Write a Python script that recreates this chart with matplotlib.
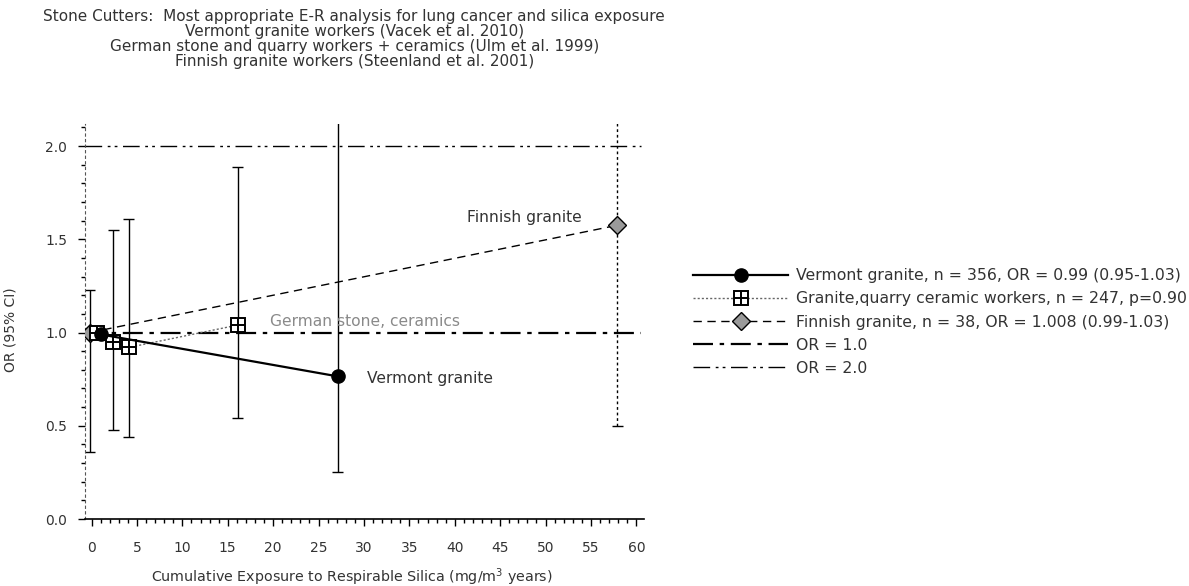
import matplotlib
matplotlib.use("Agg")
import matplotlib.pyplot as plt
from matplotlib.ticker import MultipleLocator
from matplotlib.legend_handler import HandlerTuple

plt.rcParams["font.family"] = ["DejaVu Sans"]

# Vermont granite workers (Vacek et al. 2010)
vermont_x = [1.0, 27.1]
vermont_or = [0.99, 0.765]
vermont_lo = [0.99, 0.25]
vermont_hi = [0.99, 2.40]

# German stone, quarry and ceramics workers (Ulm et al. 1999)
german_x = [0.6, 2.4, 4.1, 16.1]
german_or = [1.00, 0.95, 0.92, 1.04]
german_lo = [1.00, 0.48, 0.44, 0.54]
german_hi = [1.00, 1.55, 1.61, 1.89]

# Finnish granite workers (Steenland et al. 2001)
finnish_x = [-0.2, 57.9]
finnish_or = [1.00, 1.575]
finnish_lo = [0.36, 0.50]
finnish_hi = [1.23, 2.40]

ref_levels = [1.0, 2.0]

legend_labels = [
    "Vermont granite, n = 356, OR = 0.99 (0.95-1.03)",
    "Granite,quarry ceramic workers, n = 247, p=0.90",
    "Finnish granite, n = 38, OR = 1.008 (0.99-1.03)",
    "OR = 1.0",
    "OR = 2.0",
]

title_lines = [
    "Stone Cutters:  Most appropriate E-R analysis for lung cancer and silica exposure",
    "Vermont granite workers (Vacek et al. 2010)",
    "German stone and quarry workers + ceramics (Ulm et al. 1999)",
    "Finnish granite workers (Steenland et al. 2001)",
]

text_col = "#333333"

fig = plt.figure(figsize=(11.89, 5.86), dpi=100)
ax = fig.add_axes([0.0715, 0.1143, 0.4698, 0.6747])

x_left, x_right = -0.72, 60.8
ref_end = 60.5


def err(ax, xs, lo, hi, styles):
    for x, l, h, ls in zip(xs, lo, hi, styles):
        if h - l < 0.05:
            continue
        ax.vlines(x, l, h, colors="black", linewidth=1.0, linestyles=ls, zorder=2)
        ax.hlines(l, x - 0.6, x + 0.6, colors="black", linewidth=1.0, zorder=2)
        if h < 2.1:
            ax.hlines(h, x - 0.6, x + 0.6, colors="black", linewidth=1.0, zorder=2)


err(ax, vermont_x, vermont_lo, vermont_hi, ["-", "-"])
err(ax, german_x, german_lo, german_hi, ["-"] * 4)
err(ax, finnish_x, finnish_lo, finnish_hi, ["-", (0, (2, 2))])

# reference lines
l_or1 = ax.hlines(ref_levels[0], x_left, ref_end, colors="black", linewidth=1.6,
                  linestyles=(0, (9, 3, 2, 3)), zorder=1)
l_or2 = ax.hlines(ref_levels[1], x_left, ref_end, colors="black", linewidth=1.0,
                  linestyles=(0, (12, 4, 2, 3, 2, 4)), zorder=1)

# series
l_fin, = ax.plot(finnish_x, finnish_or, color="black", linewidth=1.0,
                 linestyle=(0, (6, 4)), marker="D", markersize=9,
                 markerfacecolor="#9a9a9a", markeredgecolor="black", zorder=4)
l_ger, = ax.plot(german_x, german_or, color="#666666", linewidth=1.0,
                 linestyle=(0, (1.5, 1.5)), marker="s", markersize=10,
                 markerfacecolor="white", markeredgecolor="black",
                 markeredgewidth=1.4, zorder=5)
l_gerp, = ax.plot(german_x, german_or, linestyle="none", marker="+",
                  markersize=10, markeredgecolor="black", markeredgewidth=1.4,
                  zorder=6)
l_ver, = ax.plot(vermont_x, vermont_or, color="black", linewidth=1.6,
                 marker="o", markersize=9.5, markerfacecolor="black",
                 markeredgecolor="black", zorder=7)

# labels beside the series
ax.text(41.3, 1.616, "Finnish granite", fontsize=11.2, color=text_col, va="center")
ax.text(19.7, 1.06, "German stone, ceramics", fontsize=11.2, color="#8a8a8a",
        va="center")
ax.text(30.3, 0.755, "Vermont granite", fontsize=11.2, color=text_col, va="center")

ax.set_xlim(x_left, x_right)
ax.set_ylim(0, 2.12)
ax.xaxis.set_major_locator(MultipleLocator(5))
ax.xaxis.set_minor_locator(MultipleLocator(1))
ax.yaxis.set_minor_locator(MultipleLocator(0.1))
ax.set_yticks([0, 0.5, 1.0, 1.5, 2.0])
ax.set_yticklabels(["0.0", "0.5", "1.0", "1.5", "2.0"])
ax.tick_params(axis="both", which="major", length=5, width=1, labelsize=10,
               labelcolor=text_col)
ax.tick_params(axis="y", which="major", pad=8)
ax.tick_params(axis="x", which="major", pad=11)
ax.tick_params(axis="both", which="minor", length=3, width=1)

for s in ("top", "right"):
    ax.spines[s].set_visible(False)
ax.spines["left"].set_linestyle((0, (2, 3)))
ax.spines["left"].set_color("#555555")
ax.spines["bottom"].set_linewidth(1.2)

ax.set_xlabel("Cumulative Exposure to Respirable Silica (mg/m$^3$ years)",
              fontsize=10.3, color=text_col, va="center")
ax.xaxis.set_label_coords(0.478, -0.1467)
ax.set_ylabel("OR (95% CI)", fontsize=10, color=text_col, va="center")
ax.yaxis.set_label_coords(-0.134, 0.478)

fig.text(0.298, 0.985, "\n".join(title_lines), ha="center", va="top",
         fontsize=11, color=text_col, linespacing=1.0)

leg = ax.legend([l_ver, (l_ger, l_gerp), l_fin, l_or1, l_or2], legend_labels,
                handler_map={tuple: HandlerTuple(ndivide=1)},
                loc="upper left", bbox_to_anchor=(1.0777, 0.650), frameon=False,
                fontsize=11.3, handlelength=6.05, labelspacing=0.52,
                handletextpad=0.5, borderaxespad=0, labelcolor=text_col)

fig.savefig("out.png", dpi=100)
